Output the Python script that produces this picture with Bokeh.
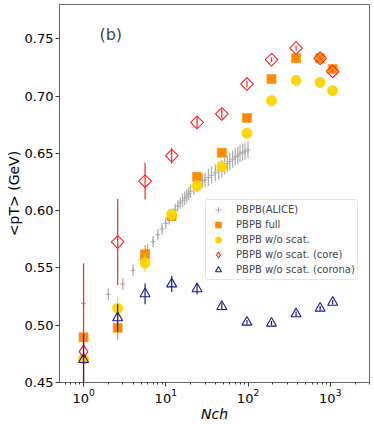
import numpy as np
from bokeh.plotting import figure
from bokeh.models import (ColumnDataSource, FixedTicker, PrintfTickFormatter, Label,
                          Legend, LegendItem, CDSView, IndexFilter)
from bokeh.embed import file_html
from bokeh.resources import INLINE

# ---------------- data ----------------
alice_n = [1, 2, 3, 4, 5, 6, 7, 8, 9, 10, 11, 12, 13, 14, 15, 16, 17, 18, 19, 20,
           22, 24, 26, 28, 30, 33, 36, 40, 44, 48, 52, 56, 60, 65, 70, 75, 80, 86, 92, 100]
alice_pt = [0.519, 0.527, 0.536, 0.548, 0.557, 0.566, 0.573, 0.579, 0.584, 0.589,
            0.593, 0.597, 0.601, 0.604, 0.607, 0.609, 0.611, 0.613, 0.615, 0.617,
            0.620, 0.622, 0.624, 0.626, 0.627, 0.629, 0.631, 0.633, 0.635, 0.637,
            0.639, 0.641, 0.643, 0.645, 0.647, 0.648, 0.650, 0.651, 0.652, 0.653]
alice_err = [0.005] * 15 + [0.006] * 10 + [0.0075] * 15

model_n = [1, 2.6, 5.6, 11.8, 24, 48, 97, 193, 384, 753, 1070]
full_pt = [0.4894, 0.4977, 0.5619, 0.5954, 0.6296, 0.6506, 0.681, 0.715, 0.733, 0.733, 0.7237]
full_err = [0.004, 0.0103, 0.008, 0.003, 0.002, 0.002, 0.001, 0.001, 0.001, 0.001, 0.001]
noscat_pt = [0.4705, 0.5148, 0.5543, 0.5967, 0.6217, 0.6384, 0.6676, 0.696, 0.7137, 0.712, 0.7047]
noscat_err = [0.004, 0.0102, 0.008, 0.003, 0.002, 0.002, 0.001, 0.001, 0.001, 0.001, 0.001]
core_pt = [0.477, 0.5727, 0.6258, 0.648, 0.677, 0.6845, 0.7105, 0.7318, 0.742, 0.733, 0.7216]
core_err = [0.077, 0.0375, 0.016, 0.007, 0.005, 0.004, 0.003, 0.002, 0.002, 0.001, 0.001]
corona_pt = [0.470, 0.5064, 0.5274, 0.536, 0.5318, 0.5163, 0.5026, 0.5017, 0.5099, 0.5148, 0.520]
corona_err = [0.022, 0.012, 0.009, 0.007, 0.005, 0.003, 0.002, 0.002, 0.002, 0.002, 0.002]

y_ticks = [0.45, 0.50, 0.55, 0.60, 0.65, 0.70, 0.75]

labels = ["PBPB(ALICE)", "PBPB full", "PBPB w/o scat.", "PBPB w/o scat. (core)",
          "PBPB w/o scat. (corona)"]

GRAY = "#ababab"
ORANGE = "#ff8c00"
GOLD = "#ffd700"
RED = "#ff2020"
NAVY = "#1a1a8f"
FONT = "DejaVu Sans"


def src(n, v, e):
    n = np.asarray(n, float); v = np.asarray(v, float); e = np.asarray(e, float)
    return ColumnDataSource(dict(x=n, y=v, lo=v - e, hi=v + e))


p = figure(width=374, height=424, x_axis_type="log", x_range=(0.51, 3000),
           y_range=(0.45, 0.780), output_backend="svg", toolbar_location=None,
           min_border_left=59, min_border_right=5, min_border_top=4, min_border_bottom=42)
p.background_fill_color = "white"
p.border_fill_color = "white"
p.xgrid.visible = False
p.ygrid.visible = False
p.outline_line_color = "#666666"
p.outline_line_width = 1

for ax in (p.xaxis[0], p.yaxis[0]):
    ax.axis_line_color = "#666666"
    ax.major_tick_line_color = "#333333"
    ax.major_tick_out = 4
    ax.major_tick_in = 0
    ax.major_label_text_font = FONT
    ax.major_label_text_font_size = "13px"
    ax.major_label_text_color = "black"
    ax.major_label_standoff = 2
    ax.axis_label_text_font = FONT
    ax.axis_label_text_font_size = "14px"
    ax.axis_label_text_color = "black"
p.xaxis.minor_tick_out = 2
p.xaxis.minor_tick_in = 0
p.xaxis.minor_tick_line_color = "#333333"
p.yaxis.minor_tick_line_color = None
p.yaxis.ticker = FixedTicker(ticks=y_ticks)
p.yaxis.formatter = PrintfTickFormatter(format="%.2f")

p.yaxis.axis_label = "<pT> (GeV)"
p.yaxis.axis_label_text_font_style = "normal"
p.yaxis.axis_label_standoff = 0
p.xaxis.axis_label = "Nch"
p.xaxis.axis_label_text_font_style = "italic"
p.xaxis.axis_label_standoff = 0

# ALICE
sa = src(alice_n, alice_pt, alice_err)
p.segment(x0="x", y0="lo", x1="x", y1="hi", source=sa, line_color=GRAY, line_width=1.2)
r_alice = p.scatter("x", "y", source=sa, marker="cross", size=5, line_color=GRAY, line_width=1)

# full
sf = src(model_n, full_pt, full_err)
p.segment(x0="x", y0="lo", x1="x", y1="hi", source=sf, line_color=ORANGE, line_width=1.2)
r_full = p.scatter("x", "y", source=sf, marker="square", size=9, fill_color=ORANGE,
                   line_color=ORANGE, line_alpha=0.6)

# w/o scat
sn = src(model_n, noscat_pt, noscat_err)
p.segment(x0="x", y0="lo", x1="x", y1="hi", source=sn, line_color=GOLD, line_width=1.2)
r_noscat = p.scatter("x", "y", source=sn, marker="circle", size=10, fill_color=GOLD,
                     line_color=GOLD)

# core
sc = src(model_n, core_pt, core_err)
p.segment(x0="x", y0="lo", x1="x", y1="hi", source=sc, line_color=RED, line_width=1.2)
p.scatter("x", "y", source=sc, view=CDSView(filter=IndexFilter(list(range(1, len(model_n))))),
          marker="square", angle=np.pi / 4, size=9,
          fill_color=None, line_color=RED, line_width=1.1)
r_core = p.scatter("x", "y", source=sc, view=CDSView(filter=IndexFilter([0])),
                   marker="diamond", size=13, fill_color=None, line_color=RED, line_width=1.1)

# corona
so = src(model_n, corona_pt, corona_err)
p.segment(x0="x", y0="lo", x1="x", y1="hi", source=so, line_color=NAVY, line_width=1.2)
r_corona = p.scatter("x", "y", source=so, marker="triangle", size=10,
                     fill_color=None, line_color=NAVY, line_width=1.1)

legend = Legend(items=[
    LegendItem(label=labels[0], renderers=[r_alice]),
    LegendItem(label=labels[1], renderers=[r_full]),
    LegendItem(label=labels[2], renderers=[r_noscat]),
    LegendItem(label=labels[3], renderers=[r_core]),
    LegendItem(label=labels[4], renderers=[r_corona]),
], location=(146, 102))
legend.label_text_font = FONT
legend.label_text_font_size = "10px"
legend.label_height = 15
legend.glyph_height = 15
legend.glyph_width = 20
legend.spacing = 0
legend.padding = 2
legend.margin = 0
legend.label_standoff = 8
legend.border_line_color = "#cccccc"
legend.border_line_width = 1
legend.border_radius = 3
legend.background_fill_alpha = 0.85
p.add_layout(legend)

# panel tag
p.add_layout(Label(x=2.14, y=0.7541, text="(b)", text_font=FONT, text_font_size="16px",
                   text_align="center", text_baseline="middle"))

open("out.html", "w").write(file_html(p, INLINE))
